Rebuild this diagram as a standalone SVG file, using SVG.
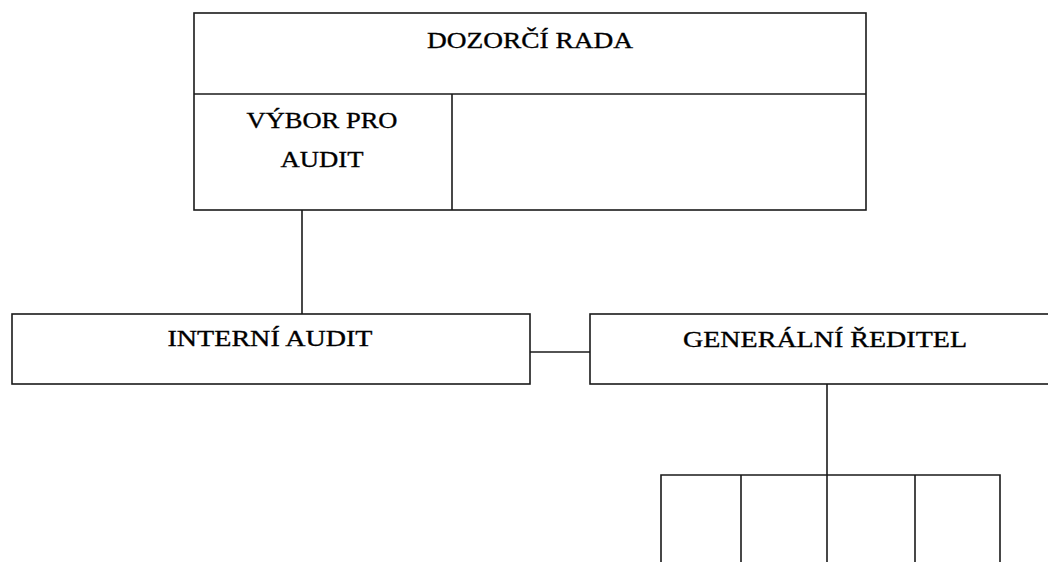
<svg xmlns="http://www.w3.org/2000/svg" width="1048" height="562" viewBox="0 0 1048 562">
<style>
.b{fill:#fff;stroke:#1a1a1a;stroke-width:1.6}
.l{fill:none;stroke:#1a1a1a;stroke-width:1.6}
.t{font-family:"Liberation Serif","DejaVu Serif",serif;font-size:24px;fill:#000;stroke:#000;stroke-width:0.35;text-anchor:middle}
</style>
<rect width="1048" height="562" fill="#fff"/>
<g id="connectors">
<line class="l" x1="302" y1="210" x2="302" y2="314"/>
<line class="l" x1="530" y1="352" x2="590" y2="352"/>
<line class="l" x1="827" y1="384" x2="827" y2="475"/>
</g>
<g id="dozorci-rada">
<rect class="b" x="194" y="13" width="672" height="197"/>
<line class="l" x1="194" y1="94" x2="866" y2="94"/>
<line class="l" x1="452" y1="94" x2="452" y2="210"/>
<text class="t" x="530" y="48" textLength="206" lengthAdjust="spacingAndGlyphs">DOZORČÍ RADA</text>
</g>
<g id="vybor-pro-audit">
<text class="t" x="322" y="128" textLength="151" lengthAdjust="spacingAndGlyphs">VÝBOR PRO</text>
<text class="t" x="322" y="167" textLength="83" lengthAdjust="spacingAndGlyphs">AUDIT</text>
</g>
<g id="interni-audit">
<rect class="b" x="12" y="314" width="518" height="70"/>
<text class="t" x="270" y="346" textLength="205" lengthAdjust="spacingAndGlyphs">INTERNÍ AUDIT</text>
</g>
<g id="generalni-reditel">
<rect class="b" x="590" y="314" width="480" height="70"/>
<text class="t" x="825" y="347" textLength="284" lengthAdjust="spacingAndGlyphs">GENERÁLNÍ ŘEDITEL</text>
</g>
<g id="departments">
<polyline class="l" points="661,563 661,475 1000,475 1000,563"/>
<line class="l" x1="741" y1="475" x2="741" y2="563"/>
<line class="l" x1="827" y1="475" x2="827" y2="563"/>
<line class="l" x1="915" y1="475" x2="915" y2="563"/>
</g>
</svg>
